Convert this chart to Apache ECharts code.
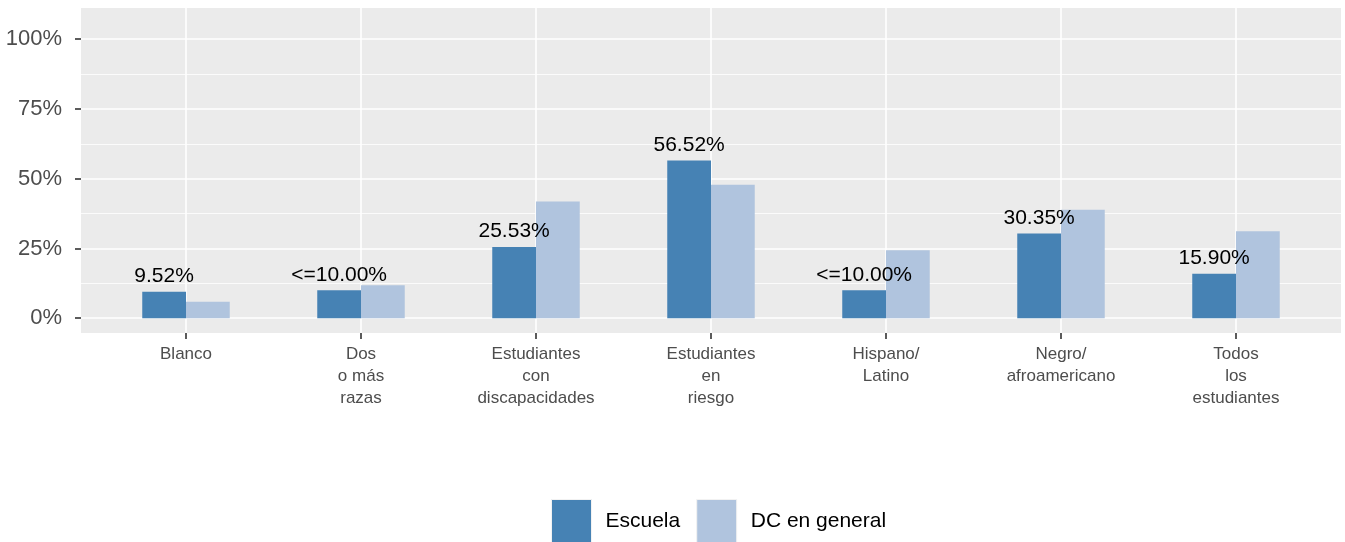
<!DOCTYPE html>
<html>
<head>
<meta charset="utf-8">
<script src="https://cdn.jsdelivr.net/npm/echarts@6/dist/echarts.min.js"></script>
<style>
    html, body { margin: 0; padding: 0; background: #fff; }
    #chart { width: 1345px; height: 542px; }
</style>
</head>
<body>
<div id="chart"></div>
<script>
// categories (x axis)
const categories = [
    "Blanco",
    "Dos\no más\nrazas",
    "Estudiantes\ncon\ndiscapacidades",
    "Estudiantes\nen\nriesgo",
    "Hispano/\nLatino",
    "Negro/\nafroamericano",
    "Todos\nlos\nestudiantes",
];
// series values, in percent
const escuela = [9.52, 10, 25.53, 56.52, 10, 30.35, 15.9];
const escuelaLabels = ["9.52%", "<=10.00%", "25.53%", "56.52%", "<=10.00%", "30.35%", "15.90%"];
const dcGeneral = [5.9, 11.8, 41.8, 47.8, 24.4, 38.9, 31.2];
const legendNames = ["Escuela", "DC en general"];
// y ticks
const yTicks = [0, 25, 50, 75, 100];
const yMinor = [12.5, 37.5, 62.5, 87.5];

const chart = echarts.init(document.getElementById("chart"));
const catIndex = categories.map((c, i) => i);

chart.setOption({
    animation: false,
    backgroundColor: "#ffffff",
    color: ["#4682B4", "#B0C4DE"],
    textStyle: { fontFamily: "Liberation Sans" },
    grid: {
        show: true,
        left: 81,
        right: 4,
        top: 8,
        bottom: 209,
        backgroundColor: "#EBEBEB",
        borderWidth: 0,
    },
    legend: {
        data: legendNames,
        left: 551,
        top: 499,
        padding: 0,
        itemWidth: 40,
        itemHeight: 44,
        itemGap: 16,
        icon: "rect",
        itemStyle: { borderColor: "#F2F2F2", borderWidth: 1 },
        textStyle: {
            color: "#000",
            fontSize: 21,
            padding: [0, 0, 0, 9],
        },
    },
    xAxis: {
        type: "value",
        min: -0.6,
        max: 6.6,
        axisLine: { show: false, onZero: false },
        axisTick: {
            show: true,
            length: 6,
            customValues: catIndex,
            lineStyle: { color: "#333", width: 1.6 },
        },
        axisLabel: {
            customValues: catIndex,
            margin: 10,
            color: "#4D4D4D",
            fontSize: 17,
            lineHeight: 22,
            formatter: (v) => categories[Math.round(v)],
        },
        splitLine: { show: true, lineStyle: { color: "#fff", width: 1.6 } },
    },
    yAxis: [
        {
            type: "value",
            min: -5.3,
            max: 111.2,
            axisLine: { show: false, onZero: false },
            axisTick: {
                show: true,
                length: 6,
                customValues: yTicks,
                lineStyle: { color: "#333", width: 1.6 },
            },
            axisLabel: {
                customValues: yTicks,
                margin: 19,
                color: "#4D4D4D",
                fontSize: 22,
                formatter: (v) => v + "%",
            },
            splitLine: { show: true, lineStyle: { color: "#fff", width: 1.6 } },
        },
        {
            type: "value",
            min: -5.3,
            max: 111.2,
            position: "left",
            axisLine: { show: false, onZero: false },
            axisTick: { show: false, customValues: yMinor },
            axisLabel: { show: false, customValues: yMinor },
            splitLine: { show: true, lineStyle: { color: "#fff", width: 0.8 } },
        },
    ],
    series: [
        {
            name: legendNames[0],
            type: "bar",
            barWidth: 43.75,
            barGap: "0%",
            data: escuela.map((v, i) => [i, v]),
            label: {
                show: true,
                position: "top",
                distance: 5,
                color: "#000",
                fontSize: 21,
                formatter: (p) => escuelaLabels[p.dataIndex],
            },
        },
        {
            name: legendNames[1],
            type: "bar",
            barWidth: 43.75,
            barGap: "0%",
            data: dcGeneral.map((v, i) => [i, v]),
        },
    ],
});
</script>
</body>
</html>
